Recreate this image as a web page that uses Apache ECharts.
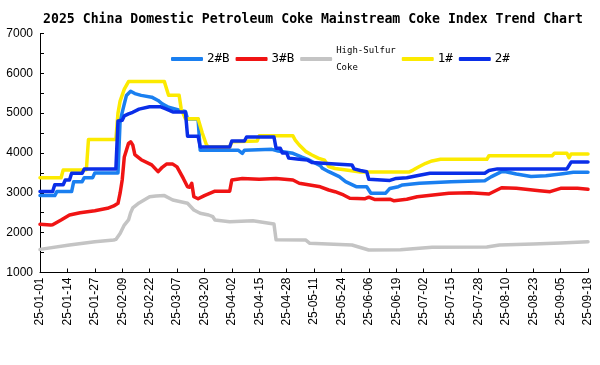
<!DOCTYPE html>
<html><head><meta charset="utf-8">
<script src="https://cdn.jsdelivr.net/npm/echarts@6/dist/echarts.min.js"></script>
<style>html,body{margin:0;padding:0;background:#fff}#c{width:600px;height:365px}</style>
</head><body><div id="c"></div>
<script>
const chartTitle = '2025 China Domestic Petroleum Coke Mainstream Coke Index Trend Chart';
const seriesNames = ['2#B', '3#B', 'High-Sulfur\nCoke', '1#', '2#'];
const seriesColors = ['#1a7ff0', '#f01414', '#c4c4c4', '#fcea00', '#0a2ee8'];
const tickLabels = ['25-01-01','25-01-14','25-01-27','25-02-09','25-02-22','25-03-07','25-03-20',
  '25-04-02','25-04-15','25-04-28','25-05-11','25-05-24','25-06-06','25-06-19','25-07-02',
  '25-07-15','25-07-28','25-08-10','25-08-23','25-09-05','25-09-18'];
const yTicks = [1000, 7000, 1000];

// points: [days since 2025-01-01, index value]
const coke2B = [[0,2930],[7,2930],[8,3030],[15,3030],[16,3280],[20,3280],[21,3380],[25,3380],[26,3500],[37,3500],
  [38,4800],[40,5230],[41,5440],[43,5550],[45,5490],[48,5445],[53,5400],[56,5317],[58,5232],[61,5147],[67,5060],
  [69,5040],[70,4850],[75,4850],[76,4070],[94,4070],[96,3990],[97,4070],[110,4090],[113,4050],[120,3990],
  [124,3900],[127,3840],[130,3760],[133,3680],[134,3615],[137,3530],[142,3405],[145,3280],[150,3154],[155,3150],
  [157,2990],[164,2990],[166,3110],[170,3154],[172,3196],[180,3240],[195,3280],[211,3300],[214,3400],[219,3530],
  [221,3530],[226,3470],[233,3410],[240,3430],[248,3480],[253,3515],[260,3515]];
const coke3B = [[0,2210],[5,2190],[6,2200],[10,2318],[14,2443],[19,2500],[26,2550],[32,2611],[35,2670],[37,2737],
  [38,2990],[39,3322],[40,3900],[42,4240],[43,4280],[44,4200],[45,3960],[48,3830],[53,3700],[56,3530],[58,3640],
  [60,3720],[63,3720],[65,3650],[68,3360],[70,3150],[71,3140],[72,3240],[73,2900],[75,2850],[78,2930],[83,3040],
  [90,3040],[91,3320],[96,3360],[104,3340],[112,3360],[120,3320],[123,3240],[128,3196],[133,3150],[137,3070],
  [140,3028],[144,2945],[147,2862],[154,2850],[156,2890],[159,2830],[166,2840],[168,2800],[174,2837],[179,2900],
  [194,2988],[204,3000],[213,2970],[219,3128],[226,3113],[237,3053],[242,3028],[247,3113],[255,3113],[260,3088]];
const highSulfur = [[0,1580],[14,1690],[26,1770],[35,1815],[36,1830],[38,1980],[40,2190],[42,2320],[43,2500],
  [44,2620],[47,2745],[52,2900],[55,2920],[59,2930],[63,2820],[70,2737],[73,2570],[76,2486],[80,2443],[82,2400],
  [83,2318],[90,2275],[101,2300],[111,2217],[112,1820],[126,1816],[128,1733],[148,1690],[156,1565],[171,1570],
  [186,1633],[212,1640],[218,1690],[234,1715],[247,1740],[260,1770]];
const coke1 = [[0,3380],[10,3380],[11,3570],[20,3570],[22,3580],[23,4340],[36,4340],[37,5000],[38,5300],[40,5600],
  [42,5790],[59,5790],[61,5450],[66,5450],[67,5100],[69,4860],[75,4860],[77,4500],[79,4200],[80,4150],[90,4150],
  [91,4280],[103,4300],[104,4430],[120,4430],[121,4330],[123,4200],[126,4040],[129,3950],[132,3870],[135,3820],
  [137,3660],[140,3610],[147,3560],[152,3520],[175,3520],[177,3570],[180,3660],[183,3740],[186,3800],[190,3840],
  [212,3840],[213,3930],[243,3930],[244,3990],[250,3990],[251,3880],[252,3975],[260,3975]];
const coke2 = [[0,3030],[6,3030],[7,3200],[11,3200],[12,3320],[14,3320],[15,3490],[20,3490],[21,3600],[36,3600],
  [37,4800],[39,4820],[40,4930],[42,4980],[44,5020],[47,5100],[52,5160],[57,5160],[60,5100],[63,5030],[69,5030],
  [70,4420],[75,4420],[76,4150],[90,4150],[91,4300],[97,4300],[98,4400],[111,4400],[112,4120],[114,4120],
  [115,4000],[117,4000],[118,3870],[123,3840],[127,3820],[129,3760],[140,3720],[148,3700],[149,3600],[152,3560],
  [155,3530],[156,3340],[166,3310],[169,3360],[174,3380],[180,3440],[185,3490],[211,3490],[213,3560],[217,3600],
  [250,3600],[252,3770],[260,3770]];
const seriesData = [coke2B, coke3B, highSulfur, coke1, coke2];

const chart = echarts.init(document.getElementById('c'), null, {renderer: 'canvas'});
chart.setOption({
  animation: false,
  backgroundColor: '#fff',
  title: {
    text: chartTitle, left: 38, top: 8,
    textStyle: {fontFamily: 'DejaVu Sans Mono', fontWeight: 'bold', fontSize: 13.2, color: '#000'}
  },
  legend: {
    left: 166, top: 37, itemWidth: 32, itemHeight: 4, itemGap: 6, icon: 'roundRect',
    textStyle: {fontFamily: 'DejaVu Sans Mono', fontSize: 12.5, color: '#000', padding: [0, 0, 0, -1]},
    data: seriesNames.map(n => n.indexOf('\n') >= 0
      ? {name: n, textStyle: {fontSize: 9, lineHeight: 17}}
      : {name: n})
  },
  grid: {left: 40, right: 12, top: 33.4, bottom: 92.5, containLabel: false},
  xAxis: {
    type: 'value', min: 0, max: (tickLabels.length - 1) * 13, interval: 13,
    axisLine: {show: true, lineStyle: {color: '#000', width: 1}},
    axisTick: {show: true, inside: true, length: 4, lineStyle: {color: '#000'}},
    splitLine: {show: false},
    axisLabel: {
      rotate: 90, margin: 5, fontFamily: 'Liberation Sans', fontSize: 12, color: '#000',
      formatter: v => tickLabels[Math.round(v / 13)] || ''
    }
  },
  yAxis: {
    type: 'value', min: yTicks[0], max: yTicks[1], interval: yTicks[2],
    axisLine: {show: true, lineStyle: {color: '#000', width: 1}},
    axisTick: {show: true, inside: true, length: 4, lineStyle: {color: '#000'}},
    minorTick: {show: true, splitNumber: 2, length: 4, lineStyle: {color: '#000'}},
    splitLine: {show: false},
    axisLabel: {margin: 7, fontFamily: 'Liberation Sans', fontSize: 12, color: '#000',
      formatter: v => String(v)}
  },
  series: seriesNames.map((n, i) => ({
    name: n, type: 'line', data: seriesData[i], showSymbol: false, symbol: 'none',
    lineStyle: {width: 3.5, color: seriesColors[i], cap: 'round', join: 'round'},
    itemStyle: {color: seriesColors[i]}
  }))
});
</script></body></html>
